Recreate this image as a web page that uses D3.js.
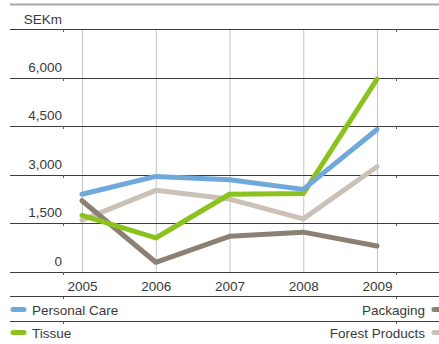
<!DOCTYPE html>
<html>
<head>
<meta charset="utf-8">
<script src="https://cdn.jsdelivr.net/npm/d3@7"></script>
<style>
  html, body { margin: 0; padding: 0; background: #fff; }
  svg { display: block; }
  text { font-family: "Liberation Sans", Arial, sans-serif; fill: #3a3a3a; }
</style>
</head>
<body>
<svg id="chart" width="439" height="344"></svg>
<script>
// Net sales by business area, SEKm
const years = ["2005", "2006", "2007", "2008", "2009"];
const personalCare   = [2400, 2950, 2850, 2550, 4400];
const tissue         = [1750, 1050, 2400, 2420, 5950];
const packaging      = [2200, 300, 1100, 1230, 800];
const forestProducts = [1600, 2520, 2250, 1640, 3250];
const yTicks = [0, 1500, 3000, 4500, 6000, 7500];
const yLabels = ["0", "1,500", "3,000", "4,500", "6,000", ""];
const unitLabel = "SEKm";

const colors = {
  personalCare: "#6fa9dc",
  tissue: "#8cc21d",
  packaging: "#8b8072",
  forestProducts: "#cbc1b7"
};

const svg = d3.select("#chart");
const left = 10, right = 439, labelEdge = 62;
const cellEdges = [63, 396];

const x = d3.scalePoint().domain(years).range([82, 377]);
const y = d3.scaleLinear().domain([0, 7500]).range([272, 29]);

// top rule
svg.append("line")
  .attr("x1", left).attr("x2", right).attr("y1", 4.5).attr("y2", 4.5)
  .attr("stroke", "#a8a8a8").attr("stroke-width", 2);

svg.append("text")
  .attr("x", labelEdge).attr("y", 24)
  .attr("text-anchor", "end").attr("font-size", 13.5)
  .text(unitLabel);

// vertical year gridlines
svg.append("g").selectAll("line").data(years).join("line")
  .attr("x1", d => x(d) + 0.5).attr("x2", d => x(d) + 0.5)
  .attr("y1", y(7500)).attr("y2", y(0))
  .attr("stroke", "#c4c4c4").attr("stroke-width", 1);

// horizontal value gridlines
svg.append("g").selectAll("line").data(yTicks).join("line")
  .attr("x1", left).attr("x2", right)
  .attr("y1", d => Math.round(y(d)) + 0.5).attr("y2", d => Math.round(y(d)) + 0.5)
  .attr("stroke", "#3c3c3c").attr("stroke-width", 1);

// small cell-edge notches on each rule
const ruleYs = yTicks.map(d => Math.round(y(d))).concat([296, 321]);
svg.append("g").selectAll("line")
  .data(d3.cross(ruleYs, cellEdges)).join("line")
  .attr("x1", d => d[1] + 0.5).attr("x2", d => d[1] + 0.5)
  .attr("y1", d => d[0]).attr("y2", d => d[0] + 3)
  .attr("stroke", "#5a5a5a").attr("stroke-width", 1);

// value labels above their gridlines
svg.append("g").selectAll("text").data(yTicks).join("text")
  .attr("x", labelEdge).attr("y", d => Math.round(y(d)) - 6)
  .attr("text-anchor", "end").attr("font-size", 13.5)
  .text((d, i) => yLabels[i]);

// series lines
const line = d3.line().x((d, i) => x(years[i])).y(d => y(d));
const series = [
  ["forestProducts", forestProducts],
  ["packaging", packaging],
  ["tissue", tissue],
  ["personalCare", personalCare]
];
svg.append("g").selectAll("path").data(series).join("path")
  .attr("d", d => line(d[1]))
  .attr("fill", "none")
  .attr("stroke", d => colors[d[0]])
  .attr("stroke-width", 5)
  .attr("stroke-linecap", "round")
  .attr("stroke-linejoin", "round");

// year labels
svg.append("g").selectAll("text").data(years).join("text")
  .attr("x", d => x(d) + 0.5).attr("y", 291)
  .attr("text-anchor", "middle").attr("font-size", 13.5)
  .text(d => d);

// legend rules
[296, 321].forEach(yy => {
  svg.append("line")
    .attr("x1", left).attr("x2", right).attr("y1", yy + 0.5).attr("y2", yy + 0.5)
    .attr("stroke", "#3c3c3c").attr("stroke-width", 1);
});

// legend
const legendLeft = [["Personal Care", "personalCare", 315], ["Tissue", "tissue", 338]];
const legendRight = [["Packaging", "packaging", 315], ["Forest Products", "forestProducts", 338]];

legendLeft.forEach(([label, key, base]) => {
  svg.append("line")
    .attr("x1", 13).attr("x2", 24).attr("y1", base - 5.5).attr("y2", base - 5.5)
    .attr("stroke", colors[key]).attr("stroke-width", 5).attr("stroke-linecap", "round");
  svg.append("text").attr("x", 32).attr("y", base).attr("font-size", 13.5).text(label);
});
legendRight.forEach(([label, key, base]) => {
  svg.append("line")
    .attr("x1", 434).attr("x2", 445).attr("y1", base - 5.5).attr("y2", base - 5.5)
    .attr("stroke", colors[key]).attr("stroke-width", 5).attr("stroke-linecap", "round");
  svg.append("text").attr("x", 425).attr("y", base).attr("text-anchor", "end")
    .attr("font-size", 13.5).text(label);
});
</script>
</body>
</html>
